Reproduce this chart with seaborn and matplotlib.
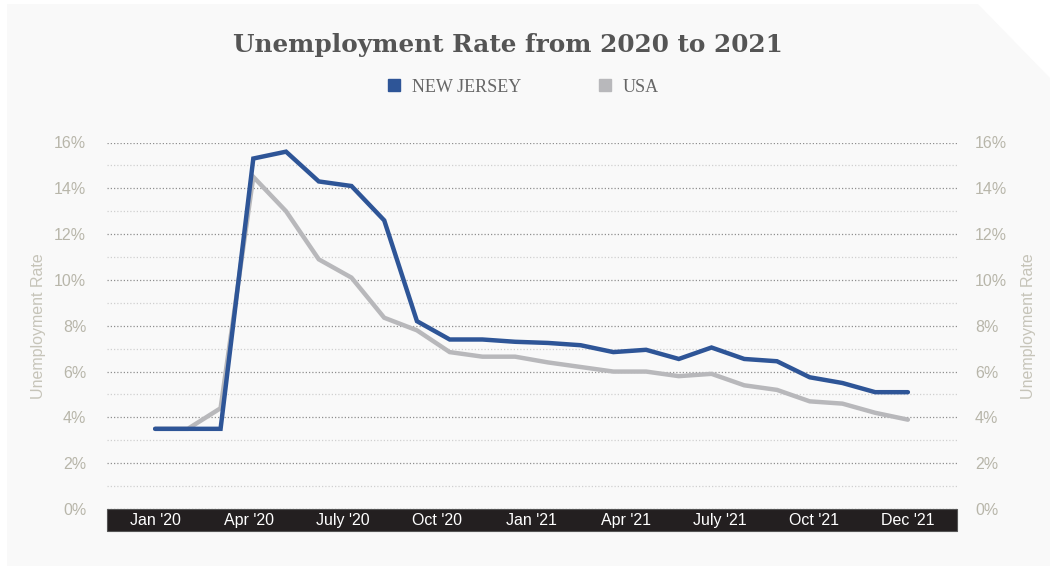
import matplotlib
matplotlib.use("Agg")
import matplotlib.pyplot as plt
from matplotlib.patches import Rectangle, Polygon
from matplotlib.lines import Line2D
import seaborn as sns
import pandas as pd
import numpy as np

# ---- data ----
months = ["Jan 2020", "Feb 2020", "Mar 2020", "Apr 2020", "May 2020", "Jun 2020",
          "Jul 2020", "Aug 2020", "Sep 2020", "Oct 2020", "Nov 2020", "Dec 2020",
          "Jan 2021", "Feb 2021", "Mar 2021", "Apr 2021", "May 2021", "Jun 2021",
          "Jul 2021", "Aug 2021", "Sep 2021", "Oct 2021", "Nov 2021", "Dec 2021"]
new_jersey = [3.5, 3.5, 3.5, 15.3, 15.6, 14.3, 14.1, 12.6, 8.2, 7.4, 7.4, 7.3,
              7.25, 7.15, 6.85, 6.95, 6.55, 7.05, 6.55, 6.45, 5.75, 5.5, 5.1, 5.1]
usa = [3.5, 3.5, 4.4, 14.5, 13.0, 10.9, 10.1, 8.35, 7.8, 6.85, 6.65, 6.65,
       6.4, 6.2, 6.0, 6.0, 5.8, 5.9, 5.4, 5.2, 4.7, 4.6, 4.2, 3.9]
tick_labels = ["Jan '20", "Apr '20", "July '20", "Oct '20", "Jan '21",
               "Apr '21", "July '21", "Oct '21", "Dec '21"]
series_names = ["NEW JERSEY", "USA"]
colors = {"NEW JERSEY": "#2e5597", "USA": "#b8b8bb"}

df = pd.DataFrame({
    "idx": list(range(len(months))) * 2,
    "rate": new_jersey + usa,
    "series": ["NEW JERSEY"] * len(months) + ["USA"] * len(months),
})

sns.set_style("white")
plt.rcParams["font.family"] = ["Liberation Sans", "DejaVu Sans"]

W, H = 1054, 569
fig = plt.figure(figsize=(W / 100, H / 100), dpi=100, facecolor="white")

# background panel with clipped corner
px = lambda x: x / W
py = lambda y: 1 - y / H
panel = Polygon([(px(7), py(4)), (px(978), py(4)), (px(1050), py(78)),
                 (px(1050), py(566)), (px(7), py(566))],
                closed=True, transform=fig.transFigure, facecolor="#f9f9f9",
                edgecolor="none", zorder=-3)
fig.add_artist(panel)

ax_left, ax_right, ax_top, ax_bot = 107, 957, 142.5, 509
ax = fig.add_axes([px(ax_left), py(ax_bot), (ax_right - ax_left) / W, (ax_bot - ax_top) / H])
ax.set_facecolor("none")

# dark x-axis band
band = Rectangle((px(ax_left), py(531)), (ax_right - ax_left) / W, (531 - 509) / H,
                 transform=fig.transFigure, facecolor="#231f20", edgecolor="#555555",
                 linewidth=0.8, zorder=-1)
fig.add_artist(band)

# grid lines
ax.set_ylim(0, 16)
ax.set_yticks(np.arange(0, 17, 2))
ax.set_yticks(np.arange(1, 17, 2), minor=True)
ax.grid(True, which="major", axis="y", color="#8f8f8f", linestyle=(0, (1, 1.6)), linewidth=0.9)
ax.grid(True, which="minor", axis="y", color="#d0d0d0", linestyle=(0, (1, 1.6)), linewidth=0.9)
ax.grid(False, axis="x")
ax.set_axisbelow(True)

sns.lineplot(data=df, x="idx", y="rate", hue="series", hue_order=["USA", "NEW JERSEY"],
             palette=colors, linewidth=3.2, legend=False, ax=ax, zorder=3)
for l in ax.get_lines():
    l.set_solid_capstyle("round")
    l.set_solid_joinstyle("miter")

n = len(months)
ax.set_xlim(-1.47, (n - 1) + 1.5)
tick_pos = np.linspace(0, n - 1, len(tick_labels))
ax.set_xticks(tick_pos)
ax.set_xticklabels(tick_labels)
ax.tick_params(axis="x", length=0, pad=3, labelsize=11.5, labelcolor="white")
ax.set_xlabel("")

label_color = "#b8b6aa"
ax.set_yticklabels([f"{v}%" for v in range(0, 17, 2)])
ax.tick_params(axis="y", which="both", length=0, pad=15, labelsize=11.5, labelcolor=label_color)
ax.set_ylabel("Unemployment Rate", fontsize=11.5, color="#c6c4b9")
ax.yaxis.set_label_coords((46 - ax_left) / (ax_right - ax_left), 0.5)
for s in ax.spines.values():
    s.set_visible(False)

ax2 = ax.twinx()
ax2.set_ylim(0, 16)
ax2.set_yticks(np.arange(0, 17, 2))
ax2.set_yticklabels([f"{v}%" for v in range(0, 17, 2)])
ax2.tick_params(axis="y", length=0, pad=13, labelsize=11.5, labelcolor=label_color)
ax2.set_ylabel("Unemployment Rate", fontsize=11.5, color="#c6c4b9")
ax2.yaxis.set_label_coords((1021 - ax_left) / (ax_right - ax_left), 0.5)
for s in ax2.spines.values():
    s.set_visible(False)
ax2.grid(False)

# title
fig.text(px(508), py(45), "Unemployment Rate from 2020 to 2021", ha="center", va="center",
         fontsize=17.8, fontweight="bold", color="#555555", family=["DejaVu Serif"])

# legend
handles = [Line2D([0], [0], marker="s", linestyle="none", markersize=8.5,
                  markerfacecolor=colors[s], markeredgecolor=colors[s]) for s in series_names]
leg = fig.legend(handles, series_names, loc="center", bbox_to_anchor=(px(523), py(87)),
                 ncol=2, frameon=False, handletextpad=0.6, columnspacing=4.2,
                 handlelength=0.8,
                 prop={"family": "Liberation Serif", "size": 13})
for t in leg.get_texts():
    t.set_color("#666666")

fig.savefig("out.png", dpi=100, facecolor="white")
